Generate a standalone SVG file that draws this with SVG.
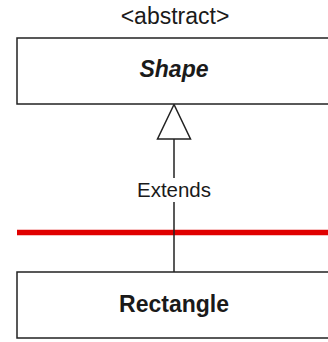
<svg xmlns="http://www.w3.org/2000/svg" width="328" height="342" viewBox="0 0 328 342">
<style>
.box{fill:#fff;stroke:#222;stroke-width:1.5}
.t{font-family:"Liberation Sans",Arial,sans-serif;fill:#1a1a1a;text-anchor:middle}
.edge{stroke:#222;stroke-width:1.5;fill:none}
</style>
<rect width="328" height="342" fill="#fff"/>
<g id="red-line">
<line x1="17" y1="232.5" x2="328" y2="232.5" stroke="#e00000" stroke-width="5.5"/>
</g>
<g id="connectors">
<line class="edge" x1="174" y1="139" x2="174" y2="272"/>
<polygon points="174,104.5 157.5,139 190.5,139" fill="#fff" stroke="#222" stroke-width="1.5"/>
<rect x="134" y="178" width="80" height="24" fill="#fff"/>
<text class="t" x="174" y="197" font-size="20.5">Extends</text>
</g>
<g id="shape">
<text class="t" x="175" y="24" font-size="23">&lt;abstract&gt;</text>
<rect class="box" x="17" y="38" width="314" height="66"/>
<text class="t" x="174" y="77" font-size="23" font-weight="bold" font-style="italic">Shape</text>
</g>
<g id="rectangle">
<rect class="box" x="17" y="272" width="314" height="66"/>
<text class="t" x="174" y="312" font-size="23" font-weight="bold">Rectangle</text>
</g>
</svg>
